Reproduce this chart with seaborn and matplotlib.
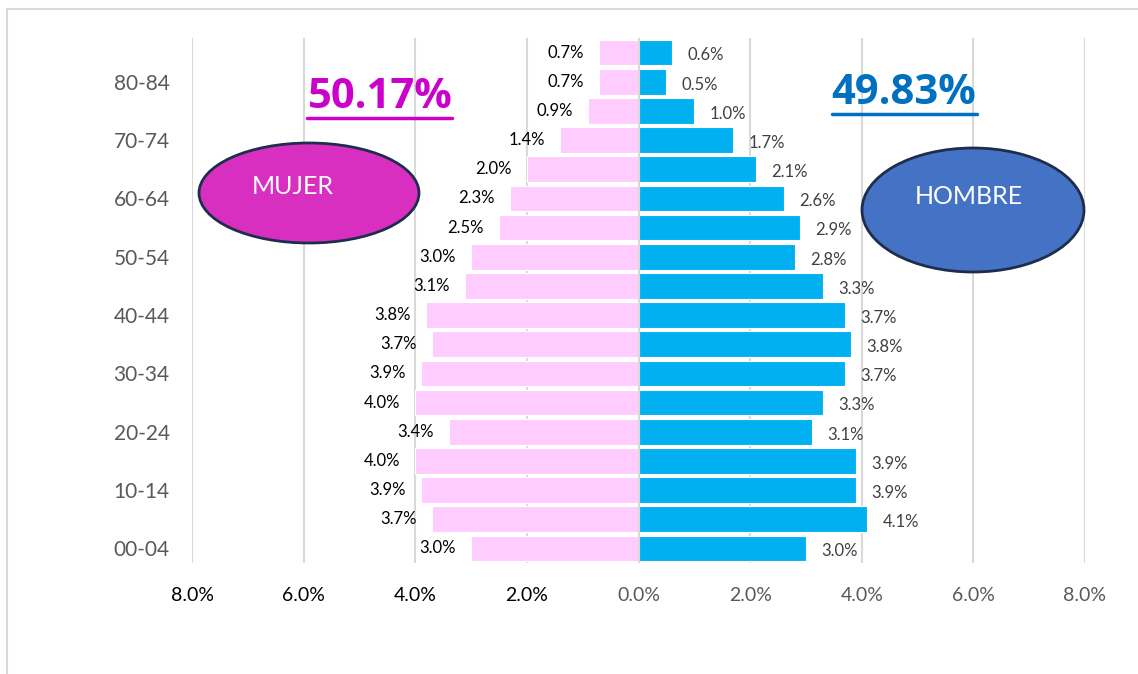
import numpy as np
import pandas as pd
import matplotlib
matplotlib.use("Agg")
import matplotlib.pyplot as plt
from matplotlib.patches import Ellipse, Rectangle
from matplotlib.lines import Line2D
import seaborn as sns

# age groups, bottom (00-04) to top (85+)
grupos = ['00-04', '05-09', '10-14', '15-19', '20-24', '25-29', '30-34', '35-39', '40-44',
          '45-49', '50-54', '55-59', '60-64', '65-69', '70-74', '75-79', '80-84', '85+']
mujer = [3.0, 3.7, 3.9, 4.0, 3.4, 4.0, 3.9, 3.7, 3.8, 3.1, 3.0, 2.5, 2.3, 2.0, 1.4, 0.9, 0.7, 0.7]
hombre = [3.0, 4.1, 3.9, 3.9, 3.1, 3.3, 3.7, 3.8, 3.7, 3.3, 2.8, 2.9, 2.6, 2.1, 1.7, 1.0, 0.5, 0.6]
total_mujer = '50.17%'
total_hombre = '49.83%'
xticks = [-8, -6, -4, -2, 0, 2, 4, 6, 8]

W, H = 1138, 674
sns.set_style("white")
plt.rcParams['font.family'] = ['Lato', 'DejaVu Sans']

df = pd.DataFrame({
    'grupo': grupos * 2,
    'valor': [-v for v in mujer] + hombre,
    'sexo': ['Mujer'] * len(grupos) + ['Hombre'] * len(grupos),
})
orden = grupos[::-1]

fig = plt.figure(figsize=(W / 100, H / 100), dpi=100)
ax = fig.add_axes([192 / W, 1 - 563 / H, (1085 - 192) / W, (563 - 38) / H])

sns.barplot(data=df, x='valor', y='grupo', hue='sexo', order=orden, dodge=False,
            palette={'Mujer': '#FFCCFF', 'Hombre': '#00B0F0'}, width=0.88, saturation=1,
            edgecolor='white', linewidth=0.8, ax=ax, legend=False, orient='h')

ax.set_xlim(-8, 8)
ax.set_ylim(17.5, -0.5)
ax.set_axisbelow(True)
for x in xticks:
    ax.axvline(x, color='#D9D9D9', lw=1.5, zorder=0)
ax.axvline(0, color='#D9D9D9', lw=1.5, zorder=5)
for s in ax.spines.values():
    s.set_visible(False)

ax.set_xticks(xticks)
ax.set_xticklabels(['%.1f%%' % abs(x) for x in xticks], fontsize=14)
for x, lab in zip(xticks, ax.get_xticklabels()):
    lab.set_color('black' if x < 0 else '#595959')
ax.tick_params(axis='x', length=0, pad=17)

ax.set_yticks(range(len(orden)))
ax.set_yticklabels([g if i % 2 == 1 else '' for i, g in enumerate(orden)], fontsize=15, color='#595959')
ax.tick_params(axis='y', length=0, pad=16)
ax.set_xlabel('')
ax.set_ylabel('')

for i, g in enumerate(orden):
    k = grupos.index(g)
    ax.annotate('%.1f%%' % mujer[k], (-mujer[k], i), xytext=(-11, 0), textcoords='offset points',
                ha='right', va='center', fontsize=12, color='black')
    ax.annotate('%.1f%%' % hombre[k], (hombre[k], i), xytext=(11, -2), textcoords='offset points',
                ha='left', va='center', fontsize=12, color='#404040')

# outer frame
fig.add_artist(Rectangle((7 / W, -0.5), 1.2, 1.5 - 9 / H, transform=fig.transFigure,
                         fill=False, edgecolor='#D9D9D9', lw=1.5))

# totals
bold = ['Open Sans', 'DejaVu Sans']
fig.text(380 / W, 1 - 98 / H, total_mujer, ha='center', va='center', fontsize=30,
         fontweight='bold', color='#CC00CC', family=bold)
fig.add_artist(Line2D([307 / W, 452 / W], [1 - 118 / H] * 2, color='#CC00CC', lw=2.5))
fig.text(904 / W, 1 - 94 / H, total_hombre, ha='center', va='center', fontsize=30,
         fontweight='bold', color='#0070C0', family=bold)
fig.add_artist(Line2D([832 / W, 977 / W], [1 - 114 / H] * 2, color='#0070C0', lw=2.5))

# sex bubbles
fig.add_artist(Ellipse((309 / W, 1 - 193 / H), 220 / W, 100 / H, transform=fig.transFigure,
                       facecolor='#D92FC0', edgecolor='#1F2D4D', lw=2))
fig.text(293 / W, 1 - 187 / H, 'MUJER', ha='center', va='center', fontsize=18, color='white')
fig.add_artist(Ellipse((973 / W, 1 - 210 / H), 222 / W, 124 / H, transform=fig.transFigure,
                       facecolor='#4472C4', edgecolor='#1F2D4D', lw=2))
fig.text(969 / W, 1 - 196 / H, 'HOMBRE', ha='center', va='center', fontsize=18, color='white')

fig.savefig('out.png', dpi=100)
